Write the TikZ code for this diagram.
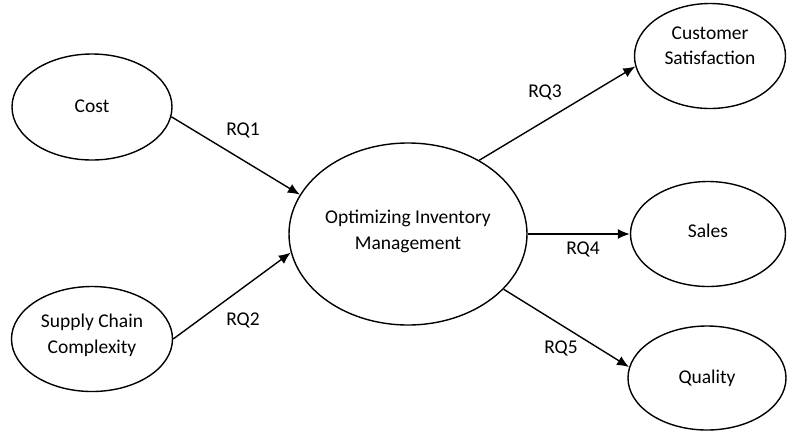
\documentclass[tikz,border=0pt]{standalone}
\usepackage{fontspec}
\setmainfont{Carlito}
\usetikzlibrary{shapes.geometric,arrows.meta}
\begin{document}
\begin{tikzpicture}[x=1pt,y=-1pt,
  every node/.style={font=\fontsize{19.5}{26}\selectfont},
  every label/.style={align=center,font=\fontsize{19.5}{26}\selectfont},
  oval/.style={draw,ellipse,line width=1.4pt,inner sep=0pt},
  link/.style={line width=1.4pt,-{Latex[length=12pt,width=10pt]}},
  lab/.style={inner sep=0pt}]
\useasboundingbox (0,0) rectangle (787,432);
\node[oval,minimum width=160pt,minimum height=106pt,
  label={[yshift=1pt]center:Cost}] (cost) at (92,107) {};
\node[oval,minimum width=161pt,minimum height=105pt,
  label={[yshift=4pt]center:Supply Chain\\Complexity}] (scc) at (92,339) {};
\node[oval,minimum width=238pt,minimum height=182pt,
  label={[yshift=3pt]center:Optimizing Inventory\\Management}] (oim) at (408,234) {};
\node[oval,minimum width=151pt,minimum height=105pt,
  label={[yshift=10pt,font=\fontsize{19.5}{25}\selectfont]center:Customer\\Satisfaction}] (cs) at (710,56) {};
\node[oval,minimum width=155pt,minimum height=105pt,
  label={[yshift=3pt]center:Sales}] (sales) at (708,234) {};
\node[oval,minimum width=158pt,minimum height=104pt,
  label={center:Quality}] (qual) at (707,378) {};
\draw[link] (cost.-7) -- (oim.160);
\draw[link] (scc.0) -- (oim.-171);
\draw[link] (oim.46) -- (cs.-172);
\draw[link] (oim.0) -- (sales.180);
\draw[link] (oim.-30) -- (qual.172);
\node[lab] (rq1) at (243,130) {RQ1};
\node[lab] (rq2) at (243,320) {RQ2};
\node[lab] (rq3) at (545,92) {RQ3};
\node[lab] (rq4) at (583,249) {RQ4};
\node[lab] (rq5) at (561,348) {RQ5};
\end{tikzpicture}
\end{document}
